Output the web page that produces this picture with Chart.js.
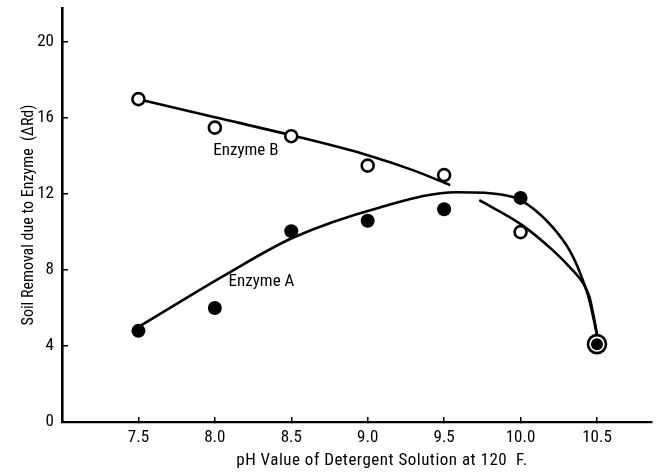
<!DOCTYPE html>
<html>
<head>
<meta charset="utf-8">
<script src="https://cdn.jsdelivr.net/npm/chart.js@4/dist/chart.umd.min.js"></script>
<style>
  html,body{margin:0;padding:0;background:#fff;}
  #wrap{width:657px;height:472px;}
</style>
</head>
<body>
<div id="wrap"><canvas id="enzymeChart"></canvas></div>
<script>
// tick labels
const phTicks=[7.5,8.0,8.5,9.0,9.5,10.0,10.5];
const removalTicks=[0,4,8,12,16,20];

// measured points
const enzymeBpH  =[7.5,8.0,8.5,9.0,9.5,10.0];
const enzymeBVals=[17.0,15.5,15.05,13.5,13.0,10.0];
const enzymeApH  =[7.5,8.0,8.5,9.0,9.5,10.0];
const enzymeAVals=[4.8,6.0,10.05,10.6,11.2,11.8];
const commonpH=[10.5];
const commonVals=[4.1];

// hand-drawn curves
const curveB1pH  =[7.5,8.0,8.5,9.0,9.3,9.54];
const curveB1Vals=[17.0,16.05,15.1,14.05,13.25,12.47];
const curveB2pH  =[9.73,10.01,10.21,10.34,10.41,10.45,10.48,10.5];
const curveB2Vals=[11.68,10.37,9.05,8.0,7.3,6.6,5.5,4.6];
const curveApH   =[7.52,8.08,8.51,9.08,9.58,9.95,10.08,10.21,10.32,10.39,10.45,10.5];
const curveAVals =[5.1,7.8,9.7,11.3,12.1,11.85,11.26,10.26,9.05,7.84,6.42,4.6];

const labelsText=['Enzyme B','Enzyme A'];
const labelspH=[7.99,8.09];
const labelsVals=[14.3,7.37];

const xTitle='pH Value of Detergent Solution at 120  F.';
const yTitle='Soil Removal due to Enzyme  (ΔRd)';

const FONT="'Roboto Condensed','DejaVu Sans Condensed',sans-serif";
const pts=(xs,ys)=>xs.map((x,i)=>({x:x,y:ys[i]}));

const curve=(xs,ys)=>({data:pts(xs,ys),showLine:true,pointRadius:0,borderColor:'#000',
  borderWidth:2.6,cubicInterpolationMode:'monotone',fill:false});

const textLabels={
  id:'textLabels',
  afterDatasetsDraw(chart){
    const {ctx,chartArea,scales:{x,y}}=chart;
    ctx.save();
    ctx.fillStyle='#000';
    ctx.font='17px '+FONT;
    ctx.textBaseline='middle';
    labelsText.forEach((t,i)=>ctx.fillText(t,x.getPixelForValue(labelspH[i]),y.getPixelForValue(labelsVals[i])));
    // x axis title, set a little right of centre as in the original
    ctx.font='17px '+FONT;
    ctx.letterSpacing='0.5px';
    ctx.textAlign='center';
    ctx.fillText(xTitle,(chartArea.left+chartArea.right)/2+25,chart.height-11);
    ctx.restore();
  }
};

// lower index is drawn on top, so the marks come first and the curves last
new Chart(document.getElementById('enzymeChart'),{
  type:'scatter',
  data:{datasets:[
    {data:pts(commonpH,commonVals),pointRadius:6,pointBackgroundColor:'#000',pointBorderColor:'#000',pointBorderWidth:0},
    {data:pts(commonpH,commonVals),pointRadius:9,pointBackgroundColor:'#fff',pointBorderColor:'#000',pointBorderWidth:2.6},
    {data:pts(enzymeBpH,enzymeBVals),pointRadius:6,pointBackgroundColor:'#fff',pointBorderColor:'#000',pointBorderWidth:2.6},
    {data:pts(enzymeApH,enzymeAVals),pointRadius:7,pointBackgroundColor:'#000',pointBorderColor:'#000',pointBorderWidth:0},
    curve(curveB1pH,curveB1Vals),
    curve(curveB2pH,curveB2Vals),
    curve(curveApH,curveAVals)
  ]},
  options:{
    responsive:true,maintainAspectRatio:false,animation:false,
    layout:{autoPadding:false,padding:{top:8,right:5,left:0,bottom:0}},
    plugins:{legend:{display:false},tooltip:{enabled:false}},
    scales:{
      x:{type:'linear',min:7.0,max:10.86,
        afterBuildTicks:s=>{s.ticks=phTicks.map(v=>({value:v}));},
        afterFit:s=>{s.height=50;s.paddingLeft=0;s.paddingRight=0;},
        grid:{drawOnChartArea:false,drawTicks:true,tickLength:-5,color:'#000',lineWidth:1.5},
        border:{display:true,color:'#000',width:2.2},
        ticks:{padding:11,color:'#000',font:{family:FONT,size:17},callback:v=>v.toFixed(1)}
      },
      y:{min:0,max:21.8,
        afterBuildTicks:s=>{s.ticks=removalTicks.map(v=>({value:v}));},
        afterFit:s=>{s.width=62;s.paddingTop=0;s.paddingBottom=0;},
        grid:{drawOnChartArea:false,drawTicks:true,tickLength:-6,color:'#000',lineWidth:1.5},
        border:{display:true,color:'#000',width:2.6},
        ticks:{padding:14,color:'#000',font:{family:FONT,size:17}},
        title:{display:true,text:yTitle,color:'#000',
          font:{family:FONT,size:16},padding:{top:19,bottom:0}}
      }
    }
  },
  plugins:[textLabels]
});
</script>
</body>
</html>
